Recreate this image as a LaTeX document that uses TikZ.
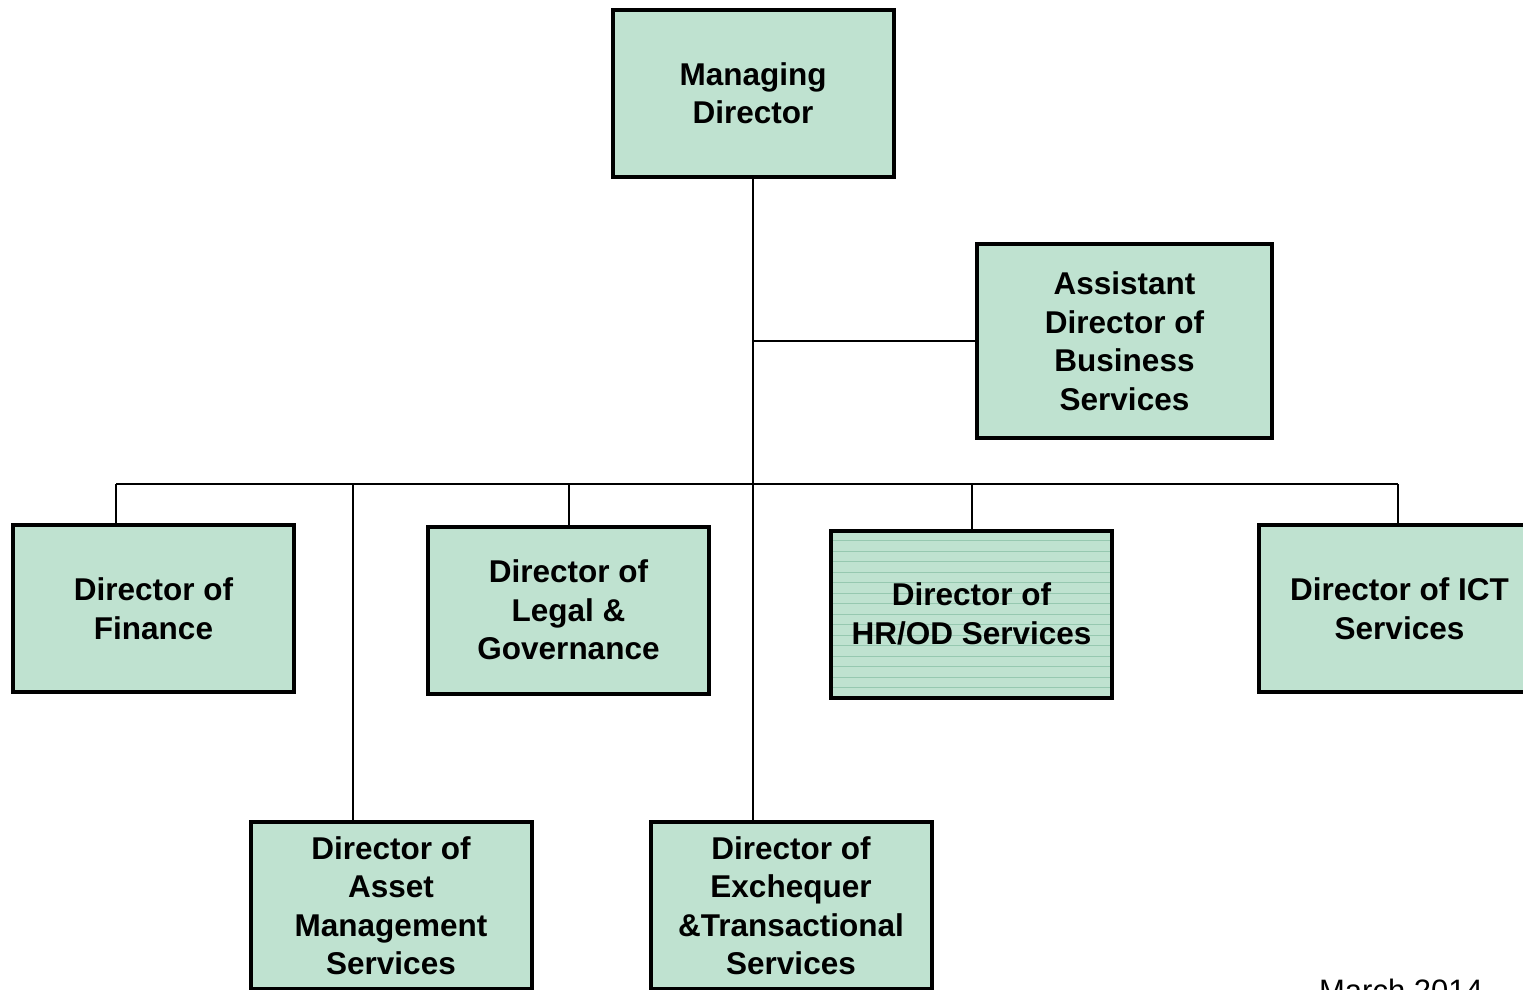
\documentclass[tikz,border=0pt]{standalone}
\usepackage{fontspec}
\setmainfont{Liberation Sans}
\definecolor{boxfill}{RGB}{191,226,208}
\definecolor{ruleline}{RGB}{150,200,176}
\begin{document}
\begin{tikzpicture}[x=1pt,y=-1pt,
  post/.style={draw=black, line width=4pt, fill=boxfill,
    minimum width=281pt, minimum height=167pt, inner sep=0pt,
    align=center, font=\bfseries\fontsize{31.5}{38.5}\selectfont},
  ruled/.style={path picture={
    \foreach \k in {0,...,16}
      \draw[ruleline, line width=0.8pt]
        ([yshift=-10-10.5*\k pt]path picture bounding box.north west) --
        ([yshift=-10-10.5*\k pt]path picture bounding box.north east);}},
  link/.style={draw=black, line width=2pt}]
\clip (0,0) rectangle (1523,989);
\fill[white] (0,0) rectangle (1523,989);

% posts
\node[post] (md) at (753,93) {Managing\\Director};
\node[post, minimum width=295pt, minimum height=194pt] (asst) at (1124.5,341)
  {Assistant\\Director of\\Business\\Services};
\node[post] (fin) at (153.5,608.5) {Director of\\Finance};
\node[post] (legal) at (568.5,610) {Director of\\Legal \&\\Governance};
\node[post, ruled] (hr) at (971.5,614) {Director of\\HR/OD Services};
\node[post] (ict) at (1399.5,608.5) {Director of ICT\\Services};
\node[post] (asset) at (391,905.5) {Director of\\Asset\\Management\\Services};
\node[post] (exch) at (791,905.5) {Director of\\Exchequer\\\&Transactional\\Services};

% connectors
\coordinate (busL) at (116,484);
\coordinate (busR) at (1398,484);
\coordinate (busA) at (353,484);
\draw[link] (md.south) -- (md.south |- exch.north);
\draw[link] (md.south |- asst.west) -- (asst.west);
\draw[link] (busL) -- (busR);
\draw[link] (busL) -- (busL |- fin.north);
\draw[link] (busA) -- (busA |- asset.north);
\draw[link] (legal.north |- busL) -- (legal.north);
\draw[link] (hr.north |- busL) -- (hr.north);
\draw[link] (busR) -- (busR |- ict.north);

% date stamp
\node[anchor=north, inner sep=0pt, font=\fontsize{31}{36}\selectfont] (date)
  at (1401,979) {March 2014};
\end{tikzpicture}
\end{document}
